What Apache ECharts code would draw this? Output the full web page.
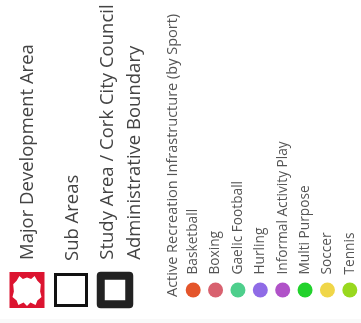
<!DOCTYPE html>
<html>
<head>
<meta charset="utf-8">
<script src="https://cdn.jsdelivr.net/npm/echarts@6/dist/echarts.min.js"></script>
<style>
  html, body { margin: 0; padding: 0; background: #fff; }
  #chart { width: 361px; height: 323px; }
</style>
</head>
<body>
<div id="chart"></div>
<script>
// legend entries, left block
const areaLabels = ['Major Development Area', 'Sub Areas', 'Study Area / Cork City Council\nAdministrative Boundary']
const areaValues = [0, 0, 0]

// legend entries, sport block
const sportTitle = 'Active Recreation Infrastructure (by Sport)'
const sportLabels = ['Basketball', 'Boxing', 'Gaelic Football', 'Hurling', 'Informal Activity Play', 'Multi Purpose', 'Soccer', 'Tennis']
const sportValues = [0, 0, 0, 0, 0, 0, 0, 0]
const sportColors = ['#e4552b', '#d8616f', '#4ecf8c', '#8f6be6', '#b052c8', '#22d22c', '#f0d648', '#99d81e']

const font = 'Open Sans'
const chart = echarts.init(document.getElementById('chart'))

// white cut-out inside the red icon
const holePath = 'path://M28 12 L38 20 L50 16 L62 20 L72 12 L80 25 L90 35 L88 55 L92 70 L80 80 L75 92 L60 85 L50 95 L40 85 L25 92 L20 80 L8 70 L12 55 L10 35 L20 25 Z'

const areaStyles = [
  { symbol: 'rect', symbolSize: [35, 36], itemStyle: { color: '#dc1430', opacity: 1 }, label: { offset: [0, 1] } },
  { symbol: 'rect', symbolSize: [31, 31], itemStyle: { color: '#fff', borderColor: '#111', borderWidth: 3, opacity: 1 }, label: { offset: [0, 2] } },
  { symbol: 'rect', symbolSize: [28.5, 28.5], itemStyle: { color: '#fff', borderColor: '#222', borderWidth: 8, borderJoin: 'round', opacity: 1 }, label: { offset: [0, 6] } }
]

const areaData = areaValues.map((v, i) => Object.assign({ value: [i, v] }, areaStyles[i]))
const sportData = sportValues.map((v, i) => ({ value: [i, v], itemStyle: { color: sportColors[i], opacity: 1 } }))

const option = {
  animation: false,
  grid: [
    { left: 5, width: 132, top: 280, height: 20 },
    { left: 182, width: 181.6, top: 280, height: 20 }
  ],
  xAxis: [
    { gridIndex: 0, type: 'category', data: areaLabels, show: false },
    { gridIndex: 1, type: 'category', data: sportLabels, show: false }
  ],
  yAxis: [
    { gridIndex: 0, type: 'value', min: -1, max: 1, show: false },
    { gridIndex: 1, type: 'value', min: -1, max: 1, show: false }
  ],
  graphic: [
    {
      type: 'text',
      x: 173,
      y: 297,
      rotation: Math.PI / 2,
      style: { text: sportTitle, fill: '#555', font: '14.5px "' + font + '"', align: 'left', verticalAlign: 'middle' }
    },
    { type: 'rect', shape: { x: 0, y: 319, width: 361, height: 4 }, style: { fill: '#f9f9f9' } }
  ],
  series: [
    {
      type: 'scatter',
      xAxisIndex: 0,
      yAxisIndex: 0,
      silent: true,
      data: areaData,
      label: {
        show: true,
        formatter: p => areaLabels[p.dataIndex],
        position: 'top',
        distance: 12,
        rotate: 90,
        align: 'left',
        verticalAlign: 'middle',
        color: '#444',
        fontFamily: font,
        fontSize: 18.5,
        lineHeight: 27
      }
    },
    {
      type: 'scatter',
      xAxisIndex: 0,
      yAxisIndex: 0,
      silent: true,
      symbol: holePath,
      symbolSize: [29, 30],
      symbolOffset: [0, 1],
      itemStyle: { color: '#fff', opacity: 1 },
      data: [areaData[0].value]
    },
    {
      type: 'scatter',
      xAxisIndex: 1,
      yAxisIndex: 1,
      silent: true,
      symbolSize: 15,
      data: sportData,
      label: {
        show: true,
        formatter: p => sportLabels[p.dataIndex],
        position: 'top',
        distance: 8,
        rotate: 90,
        align: 'left',
        verticalAlign: 'middle',
        color: '#555',
        fontFamily: font,
        fontSize: 13.7
      }
    }
  ]
}

chart.setOption(option)
</script>
</body>
</html>
